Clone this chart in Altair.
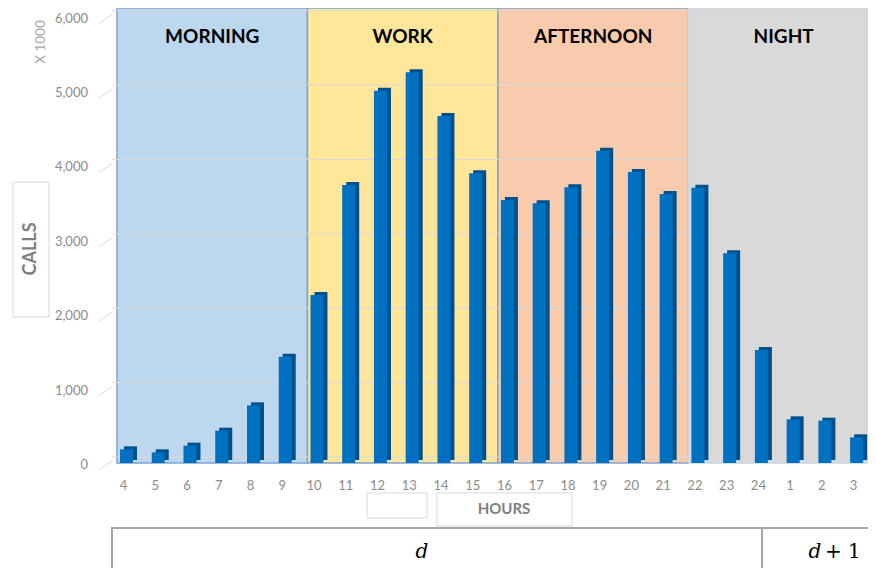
import altair as alt
import pandas as pd

# ---- data ----
hours = ["4", "5", "6", "7", "8", "9", "10", "11", "12", "13", "14", "15",
         "16", "17", "18", "19", "20", "21", "22", "23", "24", "1", "2", "3"]
calls = [184, 143, 233, 434, 775, 1429, 2258, 3737, 5004, 5251, 4664, 3894,
         3535, 3490, 3705, 4198, 3911, 3616, 3700, 2818, 1519, 587, 569, 345]

periods = ["MORNING", "WORK", "AFTERNOON", "NIGHT"]
period_first_hour = ["4", "10", "16", "22"]
period_last_hour = ["9", "15", "21", "3"]
period_colors = ["#BDD7EE", "#FFE699", "#F8CBAD", "#D9D9D9"]
period_borders = ["#7FA3CF", "#7FA3CF", "#7FA3CF", "#C9D6E3"]

y_ticks = [0, 1000, 2000, 3000, 4000, 5000, 6000]
y_unit = "X 1000"
y_title = "CALLS"
x_title = "HOURS"
day_labels = ["d", "+ 1"]

# ---- tables ----
bars = pd.DataFrame({"i": list(range(len(hours))), "hour": hours, "calls": calls})
starts = [hours.index(h) for h in period_first_hour]
ends = [hours.index(h) + 1 for h in period_last_hour]
bands = pd.DataFrame({
    "period": periods, "start": starts, "end": ends,
    "mid": [(s + e) / 2 for s, e in zip(starts, ends)],
    "fill": period_colors, "border": period_borders,
})
ticks = pd.DataFrame({"v": y_ticks})
one = pd.DataFrame({"k": [0]})

W, H = 756, 455
Y_MAX = 6116
xs = alt.Scale(domain=[0, 23.5], nice=False, zero=False)
ys = alt.Scale(domain=[0, Y_MAX], nice=False)
FONT = "Lato"
GRAY = "#8C8C8C"

band_rect = alt.Chart(bands).mark_rect(strokeWidth=1.5).encode(
    x=alt.X("start:Q", scale=xs, axis=None),
    x2="end:Q",
    y=alt.Y(datum=Y_MAX, scale=ys, axis=None),
    y2=alt.Y2(datum=0),
    fill=alt.Fill("fill:N", scale=None),
    stroke=alt.Stroke("border:N", scale=None),
)

band_text = alt.Chart(bands).mark_text(
    font=FONT, fontWeight="bold", fontSize=19, color="black", baseline="middle"
).encode(
    x=alt.X("mid:Q", scale=xs, axis=None),
    y=alt.value(29),
    text="period:N",
)

grid = alt.Chart(ticks).mark_rule(color="#D9D9D9", strokeWidth=1, yOffset=-6).encode(
    y=alt.Y("v:Q", scale=ys, axis=None),
)

diag = alt.Chart(ticks).mark_rule(color="#D9D9D9", strokeWidth=1, yOffset=7, y2Offset=-2).encode(
    x=alt.value(-13), x2=alt.value(0),
    y=alt.Y("v:Q", scale=ys, axis=None),
    y2="v:Q",
)

y_labels = alt.Chart(ticks).mark_text(
    align="right", baseline="middle", font=FONT, fontSize=13, color=GRAY, yOffset=2
).encode(
    x=alt.value(-24),
    y=alt.Y("v:Q", scale=ys, axis=None),
    text=alt.Text("v:Q", format=","),
)

x_labels = alt.Chart(bars).mark_text(
    align="center", baseline="middle", font=FONT, fontSize=13, color=GRAY, xOffset=6.5
).encode(
    x=alt.X("i:Q", scale=xs, axis=None),
    y=alt.value(478),
    text="hour:N",
)

bar_side = alt.Chart(bars).mark_bar(
    size=13, color="#00508C", xOffset=13.5, yOffset=-3, y2Offset=-3
).encode(
    x=alt.X("i:Q", scale=xs, axis=None),
    y=alt.Y("calls:Q", scale=ys, axis=None),
)

bar_front = alt.Chart(bars).mark_bar(size=13, color="#0070C0", xOffset=9.5).encode(
    x=alt.X("i:Q", scale=xs, axis=None),
    y=alt.Y("calls:Q", scale=ys, axis=None),
)

# ---- decorations outside the plot ----
unit_text = alt.Chart(one).mark_text(
    text=y_unit, angle=270, font=FONT, fontSize=13.5, color="#A6A6A6"
).encode(x=alt.value(-71), y=alt.value(34))

calls_box = alt.Chart(one).mark_rect(fill="white", stroke="#D9D9D9", strokeWidth=1).encode(
    x=alt.value(-99), x2=alt.value(-63), y=alt.value(174), y2=alt.value(309))
calls_text = alt.Chart(one).mark_text(
    text=y_title, angle=270, font=FONT, fontWeight="bold", fontSize=18, color="#7F7F7F"
).encode(x=alt.value(-81), y=alt.value(241))

empty_box = alt.Chart(one).mark_rect(fill="white", stroke="#D9D9D9", strokeWidth=1).encode(
    x=alt.value(255), x2=alt.value(315), y=alt.value(485), y2=alt.value(510))
hours_box = alt.Chart(one).mark_rect(fill="white", stroke="#D9D9D9", strokeWidth=1).encode(
    x=alt.value(325), x2=alt.value(460), y=alt.value(485), y2=alt.value(518))
hours_text = alt.Chart(one).mark_text(
    text=x_title, font=FONT, fontWeight="bold", fontSize=15, color="#7F7F7F"
).encode(x=alt.value(392), y=alt.value(501))

table = alt.Chart(one).mark_rect(fill="white", stroke="#A6A6A6", strokeWidth=2).encode(
    x=alt.value(0), x2=alt.value(780), y=alt.value(520), y2=alt.value(590))
divider = alt.Chart(one).mark_rule(color="#A6A6A6", strokeWidth=2).encode(
    x=alt.value(650), y=alt.value(520), y2=alt.value(590))
d_text = alt.Chart(one).mark_text(
    text=day_labels[0], font="DejaVu Serif", fontStyle="italic", fontSize=20, color="black"
).encode(x=alt.value(310), y=alt.value(544))
d1_text = alt.Chart(one).mark_text(
    text=day_labels[0], font="DejaVu Serif", fontStyle="italic", fontSize=20, color="black"
).encode(x=alt.value(703), y=alt.value(544))
d1_plus = alt.Chart(one).mark_text(
    text=day_labels[1], font="DejaVu Serif", fontSize=20, color="black", align="left"
).encode(x=alt.value(713), y=alt.value(544))

chart = alt.layer(
    band_rect, grid, diag, y_labels, x_labels, bar_side, bar_front, band_text,
    unit_text, calls_box, calls_text, empty_box, hours_box, hours_text,
    table, divider, d_text, d1_text, d1_plus,
).properties(
    width=W, height=H,
    autosize=alt.AutoSizeParams(type="none"),
    padding={"left": 104, "top": 0, "right": 0, "bottom": 105},
    background="white",
).configure_view(stroke=None)

chart.save("out.html", embed_options={"renderer": "svg", "actions": False})
